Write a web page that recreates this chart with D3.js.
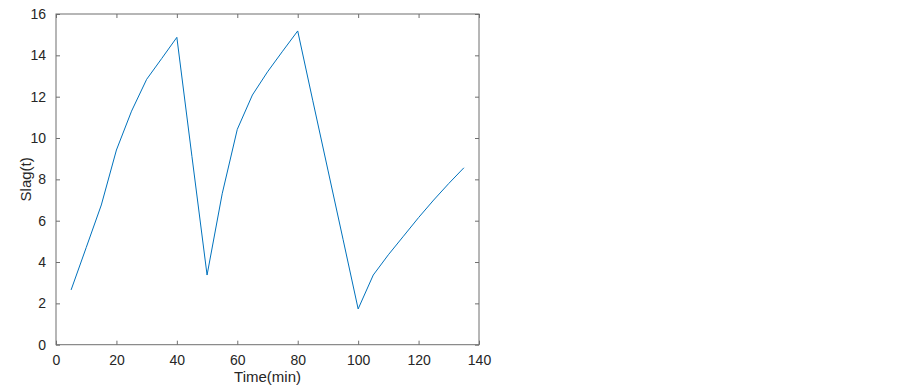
<!DOCTYPE html>
<html>
<head>
<meta charset="utf-8">
<script src="https://cdn.jsdelivr.net/npm/d3@7"></script>
<style>
  html, body { margin: 0; padding: 0; background: #fff; }
  svg { display: block; font-family: Arial, "Liberation Sans", Helvetica, sans-serif; }
</style>
</head>
<body>
<svg id="chart" width="903" height="390"></svg>
<script>
const time = [5,10,15,20,25,30,35,40,45,50,55,60,65,70,75,80,85,90,95,100,105,110,115,120,125,130,135];
const slag = [2.65,4.7,6.76,9.42,11.3,12.84,13.85,14.87,9.1,3.37,7.3,10.42,12.08,13.2,14.2,15.18,11.8,8.45,5.1,1.73,3.37,4.35,5.25,6.15,7.0,7.8,8.56];
const xTicks = [0,20,40,60,80,100,120,140];
const yTicks = [0,2,4,6,8,10,12,14,16];
const xLabel = "Time(min)";
const yLabel = "Slag(t)";

const svg = d3.select("#chart");
const L = 56, R = 479, T = 14, B = 344.7;
const x = d3.scaleLinear().domain([0,140]).range([L,R]);
const y = d3.scaleLinear().domain([0,16]).range([B,T]);
const lineColor = "#6e6e6e";
const textColor = "#262626";
const tickLen = 4;

// box
svg.append("rect").attr("x", L).attr("y", T).attr("width", R-L).attr("height", B-T)
  .attr("fill", "none").attr("stroke", lineColor).attr("stroke-width", 1);

const gx = svg.append("g").attr("transform", `translate(0,${B})`)
  .call(d3.axisBottom(x).tickValues(xTicks).tickSize(-tickLen).tickPadding(10).tickFormat(d3.format("d")));
const gxt = svg.append("g").attr("transform", `translate(0,${T})`)
  .call(d3.axisTop(x).tickValues(xTicks).tickSize(-tickLen).tickFormat(""));
const gy = svg.append("g").attr("transform", `translate(${L},0)`)
  .call(d3.axisLeft(y).tickValues(yTicks).tickSize(-tickLen).tickPadding(10).tickFormat(d3.format("d")));
const gyr = svg.append("g").attr("transform", `translate(${R},0)`)
  .call(d3.axisRight(y).tickValues(yTicks).tickSize(-tickLen).tickFormat(""));

[gx,gxt,gy,gyr].forEach(g => {
  g.select(".domain").remove();
  g.selectAll(".tick line").attr("stroke", lineColor);
  g.selectAll("text").attr("fill", textColor).style("font-size", "14px")
    .style("font-family", "Arial, 'Liberation Sans', sans-serif");
});
gx.selectAll("text").attr("dy", "0.71em");

// line
const line = d3.line().x((d,i) => x(time[i])).y(d => y(d));
svg.append("path").datum(slag).attr("d", line)
  .attr("fill", "none").attr("stroke", "#0072BD").attr("stroke-width", 1);

// labels
svg.append("text").attr("x", (L+R)/2).attr("y", 382)
  .attr("text-anchor", "middle").attr("fill", textColor).style("font-size", "15px").text(xLabel);
svg.append("text").attr("transform", `translate(31,${(T+B)/2}) rotate(-90)`)
  .attr("text-anchor", "middle").attr("fill", textColor).style("font-size", "15px").text(yLabel);
</script>
</body>
</html>
